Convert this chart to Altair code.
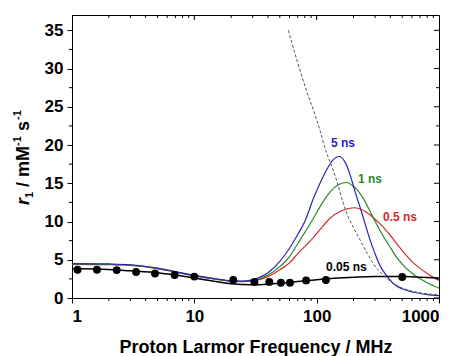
import altair as alt
import pandas as pd

# ---- data ----
blue_f = [1, 2, 3, 5, 7, 10, 15, 20, 25, 30, 40, 50, 60, 70, 80, 94, 110, 121, 135, 153, 170, 187, 205, 226, 250, 273, 300, 330, 370, 423, 500, 617, 800, 1000]
blue_r = [4.5, 4.45, 4.35, 3.9, 3.45, 2.95, 2.5, 2.25, 2.2, 2.4, 3.3, 4.8, 6.5, 8.3, 10.0, 13.0, 15.5, 16.8, 18.0, 18.5, 17.8, 16.2, 14.0, 11.9, 9.6, 7.6, 5.8, 4.2, 3.0, 1.9, 1.2, 0.75, 0.45, 0.3]

green_f = [1, 2, 3, 5, 7, 10, 15, 20, 25, 30, 40, 50, 60, 70, 94, 110, 128, 150, 176, 200, 241, 280, 330, 390, 451, 530, 617, 800, 1000]
green_r = [4.45, 4.4, 4.3, 3.88, 3.42, 2.92, 2.47, 2.22, 2.17, 2.3, 3.0, 4.1, 5.4, 7.1, 10.4, 12.3, 13.8, 14.8, 15.1, 14.6, 13.0, 11.0, 8.8, 6.9, 5.3, 4.0, 3.1, 2.0, 1.3]

red_f = [1, 2, 3, 5, 7, 10, 15, 20, 25, 30, 40, 50, 60, 70, 94, 110, 128, 160, 202, 250, 300, 330, 390, 451, 530, 617, 800, 1000]
red_r = [4.4, 4.35, 4.25, 3.85, 3.4, 2.9, 2.45, 2.2, 2.15, 2.25, 2.8, 3.7, 4.6, 5.8, 7.9, 9.2, 10.4, 11.4, 11.8, 11.3, 10.3, 9.7, 8.4, 7.1, 5.7, 4.6, 3.2, 2.3]

black_f = [1, 2, 3, 5, 7, 10, 15, 20, 30, 40, 50, 70, 100, 150, 200, 300, 500, 700, 1000]
black_r = [3.85, 3.72, 3.55, 3.3, 3.0, 2.62, 2.15, 1.85, 1.72, 1.8, 1.92, 2.15, 2.4, 2.6, 2.7, 2.8, 2.8, 2.72, 2.6]

dash_f = [58.7, 65, 73, 83, 94, 106.5, 117, 130, 146, 160, 176, 200, 226, 260, 290, 350, 423, 500, 617, 800, 1000]
dash_r = [35.0, 32.5, 29.8, 27.0, 24.6, 21.9, 19.6, 17.6, 15.3, 13.1, 11.1, 9.2, 7.6, 5.8, 4.5, 3.0, 1.9, 1.3, 0.85, 0.55, 0.4]

pts_f = [1.11, 1.6, 2.32, 3.34, 4.77, 6.9, 10, 20.8, 31, 41, 51, 60.5, 82, 119, 500]
pts_r = [3.7, 3.7, 3.65, 3.4, 3.2, 3.0, 2.8, 2.35, 2.1, 2.1, 2.0, 2.0, 2.3, 2.35, 2.75]

label_text = ["5 ns", "1 ns", "0.5 ns", "0.05 ns"]
label_f = [164, 273, 480, 175]
label_r = [20.2, 15.5, 10.6, 4.1]
label_color = ["#1f1fcc", "#2a882a", "#d62a2a", "#000000"]

x_major = [1, 10, 100, 1000]
x_minor = [2, 3, 4, 5, 6, 7, 8, 9, 20, 30, 40, 50, 60, 70, 80, 90, 200, 300, 400, 500, 600, 700, 800, 900]
y_major = [0, 5, 10, 15, 20, 25, 30, 35]
y_minor = [2.5, 7.5, 12.5, 17.5, 22.5, 27.5, 32.5]

W, H = 367, 283
FONT = "Liberation Sans"

x_scale = alt.Scale(type="log", domain=[1, 1000])
y_scale = alt.Scale(domain=[0, 37], nice=False, zero=False)
x_axis = alt.Axis(values=x_major, format="d", tickSize=5, labelPadding=5, grid=False,
                  title="Proton Larmor Frequency / MHz", titleY=54, titleBaseline="alphabetic")
y_axis = alt.Axis(values=y_major, tickSize=5, labelPadding=4, grid=False, title=None)


def X(field="f"):
    return alt.X(f"{field}:Q", scale=x_scale, axis=x_axis)


def Y(field="r"):
    return alt.Y(f"{field}:Q", scale=y_scale, axis=y_axis)


def df(f, r):
    return pd.DataFrame({"f": f, "r": r})


def line(f, r, color, width=1.2, dash=None):
    kw = dict(color=color, strokeWidth=width, interpolate="monotone", clip=True)
    if dash:
        kw["strokeDash"] = dash
    return alt.Chart(df(f, r)).mark_line(**kw).encode(x=X(), y=Y())


layers = [
    line(red_f, red_r, "#d62a2a"),
    line(green_f, green_r, "#2a882a"),
    line(blue_f, blue_r, "#2626b8"),
    line(black_f, black_r, "#000000", width=1.5),
    line(dash_f, dash_r, "#555555", width=1, dash=[3, 2]),
    alt.Chart(df(pts_f, pts_r)).mark_circle(size=62, color="black", opacity=1).encode(x=X(), y=Y()),
]

labels_df = pd.DataFrame({"f": label_f, "r": label_r, "t": label_text, "c": label_color})
layers.append(
    alt.Chart(labels_df).mark_text(font=FONT, fontSize=12, fontWeight="bold", align="center", baseline="middle").encode(
        x=X(), y=Y(), text="t:N", color=alt.Color("c:N", scale=None)
    )
)

# minor/mirrored ticks
xminor_df = pd.DataFrame({"f": x_minor})
xtop_df = pd.DataFrame({"f": [10, 100]})
yminor_df = pd.DataFrame({"r": y_minor})
ymaj_df = pd.DataFrame({"r": y_major})
tick_col = "black"
layers += [
    alt.Chart(xminor_df).mark_rule(color=tick_col).encode(x=X(), y=alt.value(H), y2=alt.value(H + 3)),
    alt.Chart(xminor_df).mark_rule(color=tick_col).encode(x=X(), y=alt.value(0), y2=alt.value(3)),
    alt.Chart(xtop_df).mark_rule(color=tick_col).encode(x=X(), y=alt.value(0), y2=alt.value(5)),
    alt.Chart(yminor_df).mark_rule(color=tick_col).encode(y=Y(), x=alt.value(-3), x2=alt.value(0)),
    alt.Chart(yminor_df).mark_rule(color=tick_col).encode(y=Y(), x=alt.value(W - 3), x2=alt.value(W)),
    alt.Chart(ymaj_df).mark_rule(color=tick_col).encode(y=Y(), x=alt.value(W - 5), x2=alt.value(W)),
]

# y-axis title built from pieces (italic r, subscript, superscripts)
one = pd.DataFrame({"a": [0]})
title_pieces = [
    ("r", 18, "italic", -43, 190),
    ("1", 11, "normal", -39, 183),
    ("/ mM", 18, "normal", -43, 172),
    ("-1", 11, "normal", -51, 131),
    ("s", 18, "normal", -43, 116),
    ("-1", 11, "normal", -51, 105),
]
for txt, fs, style, px, py in title_pieces:
    layers.append(
        alt.Chart(one).mark_text(text=txt, font=FONT, fontSize=fs, fontWeight="bold", fontStyle=style,
                                 angle=270, align="left", baseline="alphabetic", color="black").encode(
            x=alt.value(px), y=alt.value(py)
        )
    )

chart = alt.layer(*layers).properties(
    width=W, height=H,
    autosize=alt.AutoSizeParams(type="none"),
    padding={"left": 64, "top": 7, "right": 10, "bottom": 58},
).configure_view(stroke="black", strokeWidth=1).configure_axis(
    domainColor="black", tickColor="black", labelColor="black", titleColor="black",
    labelFont=FONT, titleFont=FONT, labelFontSize=17, titleFontSize=18,
    labelFontWeight="bold", titleFontWeight="bold", domainWidth=1, tickWidth=1,
)

chart.save("out.html", embed_options={"renderer": "svg", "actions": False})
